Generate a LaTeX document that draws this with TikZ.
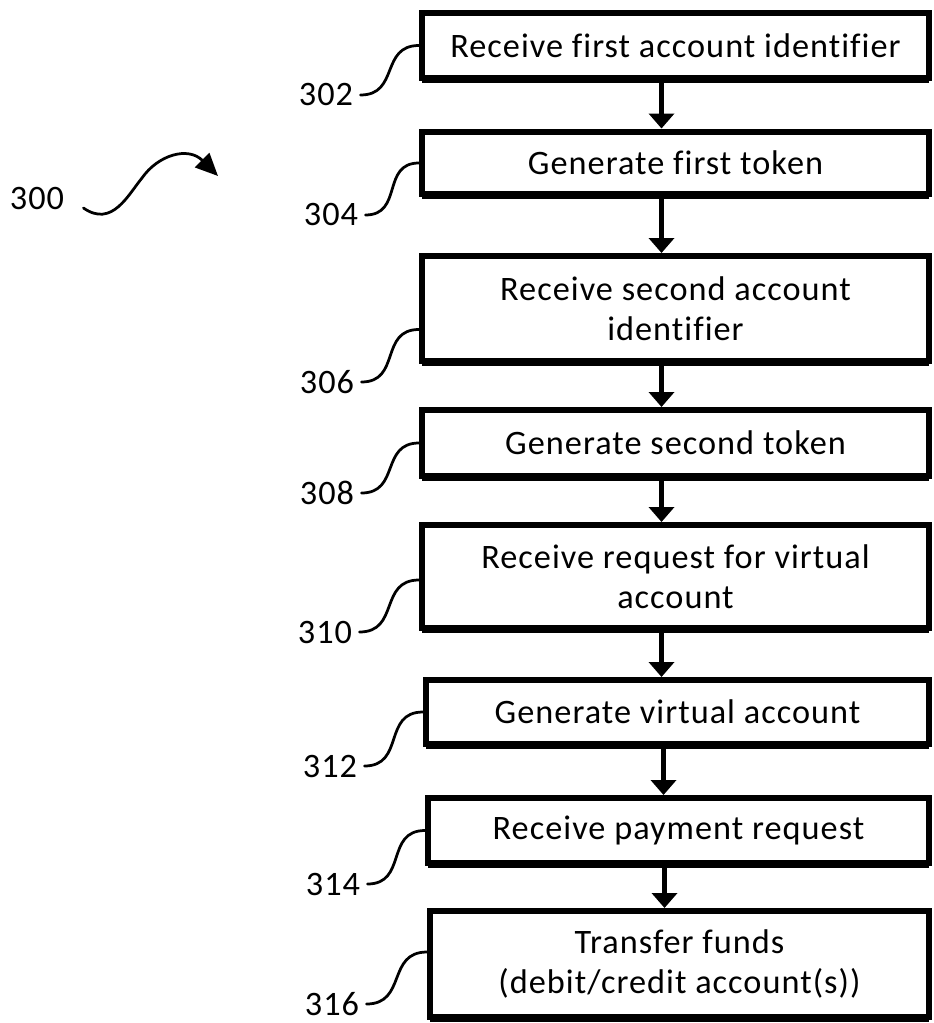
\documentclass[tikz,border=0pt]{standalone}
\usepackage{fontspec}
\setmainfont{Carlito}[Ligatures=NoCommon, LetterSpace=3]
\usetikzlibrary{positioning,arrows.meta,shadows}

\newcommand{\flowfont}{\fontsize{19.5}{22.8}\selectfont}

\begin{document}
\begin{tikzpicture}[
  x=0.02cm, y=-0.02cm,
  box/.style={draw, line width=0.12cm, fill=white, minimum width=10.14cm, minimum height=1.3cm, inner sep=0pt, align=center, font=\flowfont,
    drop shadow={shadow xshift=0cm, shadow yshift=-0.1cm, fill=black, opacity=1}},
  num/.style={inner sep=4pt, font=\flowfont},
  arrow/.style={-{Triangle[length=0.3cm, width=0.5cm]}, line width=0.11cm},
  lead/.style={line width=0.055cm, line cap=round}
]
\useasboundingbox (0,0) rectangle (933,1023);

% steps
\node[box] (b1) at (675.5,45.5) {Receive first account identifier};
\node[box, minimum height=1.26cm] (b2) at (675.5,163) {Generate first token};
\node[box, minimum height=2.1cm] (b3) at (675.5,308.5) {Receive second account\\identifier};
\node[box, minimum height=1.32cm] (b4) at (675.5,443) {Generate second token};
\node[box, minimum height=2.06cm] (b5) at (675.5,576.5) {Receive request for virtual\\account};
\node[box, minimum width=10.06cm, minimum height=1.28cm] (b6) at (677.5,712) {Generate virtual account};
\node[box, minimum width=10.02cm] (b7) at (678.5,830.5) {Receive payment request};
\node[box, minimum width=9.98cm, minimum height=2.12cm] (b8) at (679.5,964) {Transfer funds\\(debit/credit account(s))};

% reference numerals
\node[num] (l300) at (37,199) {300};
\node[num] (l302) at (326,95) {302};
\node[num] (l304) at (331,215) {304};
\node[num] (l306) at (327,382) {306};
\node[num] (l308) at (327,493) {308};
\node[num] (l310) at (325,632) {310};
\node[num] (l312) at (330,766) {312};
\node[num] (l314) at (333,884) {314};
\node[num] (l316) at (332,1004) {316};
\coordinate (t300) at (218,176);

% flow
\foreach \a/\b in {b1/b2, b2/b3, b3/b4, b4/b5, b5/b6, b6/b7, b7/b8}
  \draw[arrow] ([xshift=-0.28cm]\a.south) -- ([xshift=-0.28cm]\a.south |- \b.north);

% leaders
\draw[lead, -{Triangle[length=0.45cm, width=0.4cm]}] ([shift={(12,9)}]l300.east)
  .. controls (112,228) and (128,195) .. (142,178)
  .. controls (158,155) and (188,146) .. (t300);
\draw[lead] (l302.east) to[out=0, in=180, looseness=1.3] (b1.west);
\draw[lead] (l304.east) to[out=0, in=180, looseness=1.3] (b2.west);
\draw[lead] (l306.east) to[out=0, in=180, looseness=1.3] ([yshift=-0.42cm]b3.west);
\draw[lead] (l308.east) to[out=0, in=180, looseness=1.3] (b4.west);
\draw[lead] (l310.east) to[out=0, in=180, looseness=1.3] ([yshift=-0.07cm]b5.west);
\draw[lead] (l312.east) to[out=0, in=180, looseness=1.3] (b6.west);
\draw[lead] (l314.east) to[out=0, in=180, looseness=1.3] (b7.west);
\draw[lead] (l316.east) to[out=0, in=180, looseness=1.3] ([yshift=0.24cm]b8.west);
\end{tikzpicture}
\end{document}
